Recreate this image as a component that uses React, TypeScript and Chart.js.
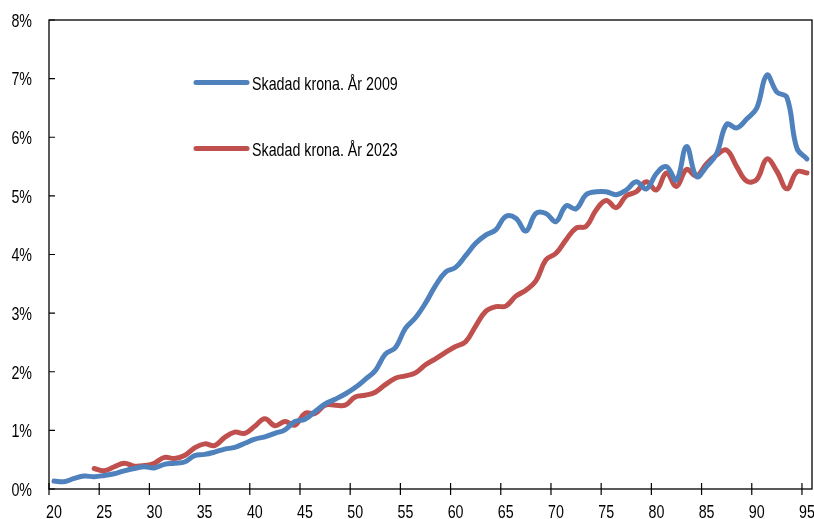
import React, { useEffect, useRef } from "react";
import { Chart, registerables } from "chart.js";

Chart.register(...registerables);

const ages = [
  20, 21, 22, 23, 24, 25, 26, 27, 28, 29, 30, 31, 32, 33, 34, 35, 36, 37, 38, 39,
  40, 41, 42, 43, 44, 45, 46, 47, 48, 49, 50, 51, 52, 53, 54, 55, 56, 57, 58, 59,
  60, 61, 62, 63, 64, 65, 66, 67, 68, 69, 70, 71, 72, 73, 74, 75, 76, 77, 78, 79,
  80, 81, 82, 83, 84, 85, 86, 87, 88, 89, 90, 91, 92, 93, 94, 95,
];

// Skadad krona, år 2009 (procent), ålder 20–95
const values2009 = [
  0.135, 0.125, 0.18, 0.22, 0.21, 0.23, 0.26, 0.31, 0.35, 0.38,
  0.36, 0.42, 0.44, 0.46, 0.57, 0.59, 0.63, 0.68, 0.71, 0.78,
  0.85, 0.89, 0.95, 1.01, 1.15, 1.19, 1.32, 1.45, 1.53, 1.62,
  1.73, 1.87, 2.02, 2.30, 2.41, 2.74, 2.92, 3.17, 3.47, 3.70,
  3.78, 3.98, 4.19, 4.33, 4.42, 4.65, 4.62, 4.40, 4.70, 4.70,
  4.56, 4.83, 4.78, 5.02, 5.07, 5.07, 5.02, 5.10, 5.24, 5.12,
  5.38, 5.50, 5.27, 5.84, 5.33, 5.50, 5.72, 6.22, 6.16, 6.31,
  6.50, 7.06, 6.77, 6.68, 5.81, 5.63,
];

// Skadad krona, år 2023 (procent), ålder 20–95 (data från 24)
const values2023 = [
  null, null, null, null, 0.35, 0.31, 0.38, 0.44, 0.39, 0.40,
  0.44, 0.54, 0.52, 0.57, 0.70, 0.77, 0.74, 0.88, 0.97, 0.95,
  1.07, 1.20, 1.08, 1.15, 1.09, 1.29, 1.29, 1.43, 1.43, 1.43,
  1.57, 1.60, 1.65, 1.78, 1.89, 1.93, 1.98, 2.12, 2.22, 2.33,
  2.43, 2.51, 2.78, 3.03, 3.11, 3.12, 3.29, 3.39, 3.55, 3.91,
  4.02, 4.25, 4.45, 4.48, 4.76, 4.92, 4.80, 5.00, 5.07, 5.24,
  5.10, 5.39, 5.16, 5.45, 5.34, 5.55, 5.70, 5.78, 5.50, 5.25,
  5.28, 5.63, 5.42, 5.12, 5.41, 5.39,
];

const seriesLabels = ["Skadad krona. År 2009", "Skadad krona. År 2023"];
const seriesColors = ["#4F81BD", "#C0504D"];
const xTicks = [20, 25, 30, 35, 40, 45, 50, 55, 60, 65, 70, 75, 80, 85, 90, 95];
const yTicks = [0, 1, 2, 3, 4, 5, 6, 7, 8];

const FONT = "19px 'Liberation Sans', Arial, sans-serif";
const SQUEEZE = 0.75;

const toPoints = (vals: (number | null)[]) =>
  ages.map((a, i) => ({ x: a + 0.5, y: vals[i] }));

function narrowText(ctx: CanvasRenderingContext2D, text: string, x: number, y: number, align: CanvasTextAlign) {
  ctx.save();
  ctx.translate(x, y);
  ctx.scale(SQUEEZE, 1);
  ctx.font = FONT;
  ctx.fillStyle = "#000";
  ctx.textAlign = align;
  ctx.textBaseline = "alphabetic";
  ctx.fillText(text, 0, 0);
  ctx.restore();
}

const framePlugin = {
  id: "frame",
  beforeDatasetsDraw(chart: any) {
    const { ctx, chartArea, scales } = chart;
    const { left, right, top, bottom } = chartArea;
    ctx.save();
    ctx.strokeStyle = "#000";
    ctx.lineWidth = 1.3;
    ctx.strokeRect(left, top, right - left, bottom - top);
    ctx.lineWidth = 1.2;
    ctx.beginPath();
    for (const v of yTicks) {
      const y = scales.y.getPixelForValue(v);
      ctx.moveTo(left, y);
      ctx.lineTo(left + 6, y);
    }
    for (const v of xTicks) {
      const x = scales.x.getPixelForValue(v);
      ctx.moveTo(x, bottom - 6);
      ctx.lineTo(x, bottom + 6);
    }
    ctx.stroke();
    ctx.restore();
    for (const v of yTicks) {
      const y = scales.y.getPixelForValue(v);
      narrowText(ctx, v + "%", left - 17, y + 6.8, "right");
    }
    for (const v of xTicks) {
      const x = scales.x.getPixelForValue(v + 0.5);
      narrowText(ctx, String(v), x, bottom + 29, "center");
    }
  },
  afterDraw(chart: any) {
    const { ctx } = chart;
    const rows = [82.5, 148.5];
    ctx.save();
    rows.forEach((y, i) => {
      ctx.strokeStyle = seriesColors[i];
      ctx.lineWidth = 5;
      ctx.lineCap = "round";
      ctx.beginPath();
      ctx.moveTo(196, y);
      ctx.lineTo(247, y);
      ctx.stroke();
      narrowText(ctx, seriesLabels[i], 252, y + 7, "left");
    });
    ctx.restore();
  },
};

export default function App() {
  const ref = useRef<HTMLCanvasElement | null>(null);
  useEffect(() => {
    if (!ref.current) return;
    const chart = new Chart(ref.current, {
      type: "line",
      data: {
        datasets: [
          {
            label: seriesLabels[0],
            data: toPoints(values2009),
            borderColor: seriesColors[0],
            borderWidth: 5,
            pointRadius: 0,
            tension: 0.4,
            borderCapStyle: "round",
            borderJoinStyle: "round",
          },
          {
            label: seriesLabels[1],
            data: toPoints(values2023),
            borderColor: seriesColors[1],
            borderWidth: 5,
            pointRadius: 0,
            tension: 0.4,
            borderCapStyle: "round",
            borderJoinStyle: "round",
          },
        ],
      },
      options: {
        animation: false,
        responsive: false,
        maintainAspectRatio: false,
        layout: { padding: { top: 20, right: 2, left: 0, bottom: 0 } },
        plugins: { legend: { display: false }, tooltip: { enabled: false } },
        scales: {
          x: {
            type: "linear",
            min: 20,
            max: 96,
            grid: { display: false, drawTicks: false },
            border: { display: false },
            afterBuildTicks: (s: any) => {
              s.ticks = xTicks.map((v) => ({ value: v }));
            },
            afterFit: (s: any) => {
              s.height = 30;
              s.paddingLeft = 0;
              s.paddingRight = 0;
            },
            ticks: { display: false },
          },
          y: {
            min: 0,
            max: 8,
            grid: { display: false, drawTicks: false },
            border: { display: false },
            afterBuildTicks: (s: any) => {
              s.ticks = yTicks.map((v) => ({ value: v }));
            },
            afterFit: (s: any) => {
              s.width = 49;
              s.paddingTop = 0;
              s.paddingBottom = 0;
            },
            ticks: { display: false },
          },
        },
      },
      plugins: [framePlugin],
    });
    return () => chart.destroy();
  }, []);
  return (
    <div style={{ position: "fixed", left: 0, top: 0, width: 814, height: 519, background: "#fff" }}>
      <canvas ref={ref} width={814} height={519} style={{ display: "block", width: 814, height: 519 }} />
    </div>
  );
}
